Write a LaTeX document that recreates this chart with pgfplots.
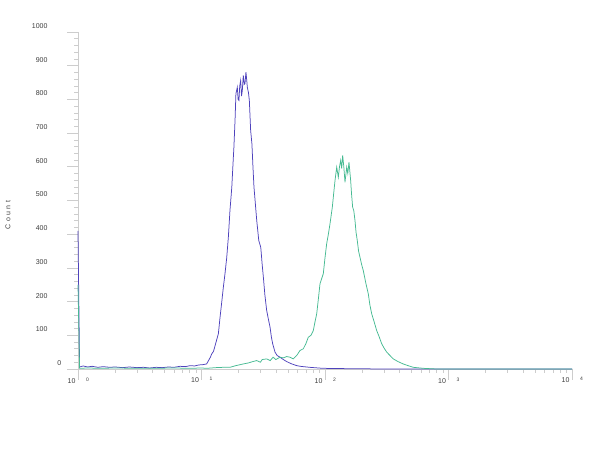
\documentclass[border=0pt]{standalone}
\usepackage{pgfplots}
\pgfplotsset{compat=1.18}
\usepackage{fontspec}
\setmainfont{Liberation Sans}
\definecolor{histblue}{RGB}{78,66,188}
\definecolor{histgreen}{RGB}{70,186,146}
\definecolor{axgray}{RGB}{205,205,205}
\definecolor{labgray}{RGB}{60,60,60}

\newcommand{\dec}[1]{\makebox[0pt][r]{10\hspace{2.5pt}}\makebox[0pt][l]{\hspace{8pt}\raisebox{2pt}{\fontsize{5}{5}\selectfont #1}}}

\begin{document}
\begin{tikzpicture}[x=1pt,y=1pt]
\path[use as bounding box] (0,0) rectangle (600,450);
\begin{axis}[
    at={(78pt,81pt)}, anchor=south west,
    scale only axis, width=494pt, height=337pt,
    xmode=log, xmin=1, xmax=10000,
    ymin=0, ymax=1000,
    axis x line*=bottom, axis y line*=left,
    axis line style={draw=axgray, -},
    tick align=outside,
    major tick length=11pt, minor tick length=4pt,
    every tick/.style={draw=axgray, line width=0.6pt},
    xtick={1,10,100,1000,10000},
    xticklabels={\dec{0},\dec{1},\dec{2},\dec{3},\dec{4}},
    ytick={0,100,...,1000},
    yticklabels={{\makebox[0pt][l]{\hspace{10pt}0}}, 100, 200, 300, 400, 500, 600, 700, 800, 900, {1000\hspace{6pt}}},
    minor y tick num=4,
    tick label style={font=\fontsize{7}{8}\selectfont, text=labgray},
    yticklabel style={anchor=east, yshift=6pt, xshift=-16pt},
    xticklabel style={anchor=north, yshift=6pt},
    clip=false,
]
\addplot[histblue, line width=0.75pt] coordinates {
    (1,410) (1.03,6) (1.1,9) (1.2,6) (1.3,8) (1.45,5) (1.6,7) (1.8,5)
    (2.0,6) (2.3,4) (2.6,6) (3.0,4) (3.4,5) (3.8,3) (4.3,5) (4.8,4)
    (5.4,6) (6.0,5) (6.7,8) (7.4,7) (8.1,10) (8.8,9) (9.5,12) (10.3,13)
    (11.0,15) (11.4,25) (11.8,35) (12.1,45) (12.5,52) (12.9,70) (13.7,105)
    (14.1,150) (14.6,200) (15.0,240) (15.5,283) (16.0,330) (16.5,391)
    (17.0,470) (17.6,540) (18.0,610) (18.3,658) (18.7,740) (19.0,817)
    (19.5,836) (19.8,800) (20.1,797) (20.4,840) (20.75,856) (21.1,810)
    (21.4,826) (21.8,871) (22.2,845) (22.5,847) (22.9,881) (23.2,860)
    (23.5,836) (24.0,820) (24.4,797) (25.0,708) (25.6,668) (26.1,600)
    (26.6,540) (27.3,490) (28.0,441) (29.1,381) (30.2,361) (31.0,310)
    (31.7,272) (32.6,220) (33.7,174) (34.8,148) (35.9,124) (36.8,95)
    (37.7,75) (39.4,50) (41,40) (43.2,35) (46,28) (49,22) (53,16) (59,10)
    (63,8) (75,5) (96,2) (150,1) (300,0) (10000,0)
};
\addplot[histgreen, line width=0.75pt] coordinates {
    (1,250) (1.03,2) (1.2,3) (1.5,2) (2,3) (3,2) (4,2) (6,3) (8,2)
    (10,3) (11,2) (13,4) (15,5) (17,5) (19,10) (21.8,15) (24,18)
    (26,22) (28,25) (30,20) (31,28) (33.7,30) (36,25) (38,35) (40,28)
    (43.2,35) (46,33) (49,37) (52,35) (55.4,30) (59,40) (62.8,55)
    (66.7,60) (70,75) (73.2,94) (77,100) (80.4,114) (83,140) (85.7,164)
    (88.5,210) (91.1,253) (96.9,283) (100,330) (103.2,372) (106.5,400)
    (109.8,431) (114.6,480) (117.5,520) (120.5,559) (124.4,599)
    (128.2,569) (131,600) (134,619) (136.5,595) (139,634) (142,600)
    (145.2,554) (149.9,599) (153,580) (156.4,614) (161.4,559) (164,520)
    (167.5,480) (171,470) (174.9,441) (178.5,405) (182.6,381) (187,350)
    (191.9,332) (198,310) (204.2,292) (214,255) (224.2,223) (231,190)
    (238.8,164) (250,140) (262.2,114) (275,95) (287.8,75) (301,62)
    (316,50) (336,40) (357,30) (390,22) (430,15) (470,10) (519,5)
    (625,2) (800,0) (10000,0)
};
\end{axis}
\node[rotate=90, font=\fontsize{7}{8}\selectfont, text=labgray] at (8,235) {C\,\,o\,\,u\,\,n\,\,t};
\end{tikzpicture}
\end{document}
